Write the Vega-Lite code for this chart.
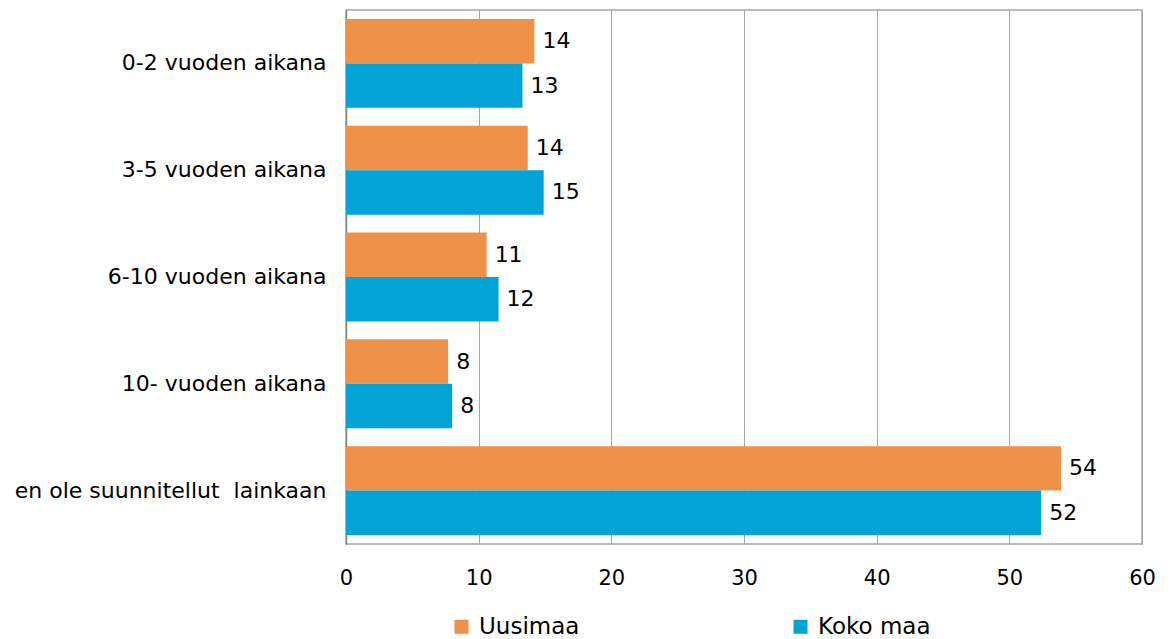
{
  "$schema": "https://vega.github.io/schema/vega-lite/v6.json",
  "width": 796,
  "height": 534,
  "autosize": {"type": "none"},
  "padding": {"left": 346, "top": 10, "right": 29, "bottom": 95},
  "config": {
    "font": "DejaVu Sans",
    "view": {"stroke": "#A6A6A6", "strokeWidth": 1.5},
    "axis": {"labelFont": "DejaVu Sans", "labelColor": "#000000"}
  },
  "data": {
    "values": [
      {"cat": "0-2 vuoden aikana", "series": "Uusimaa", "value": 14.2, "label": "14"},
      {"cat": "0-2 vuoden aikana", "series": "Koko maa", "value": 13.3, "label": "13"},
      {"cat": "3-5 vuoden aikana", "series": "Uusimaa", "value": 13.7, "label": "14"},
      {"cat": "3-5 vuoden aikana", "series": "Koko maa", "value": 14.9, "label": "15"},
      {"cat": "6-10 vuoden aikana", "series": "Uusimaa", "value": 10.6, "label": "11"},
      {"cat": "6-10 vuoden aikana", "series": "Koko maa", "value": 11.5, "label": "12"},
      {"cat": "10- vuoden aikana", "series": "Uusimaa", "value": 7.7, "label": "8"},
      {"cat": "10- vuoden aikana", "series": "Koko maa", "value": 8.0, "label": "8"},
      {"cat": "en ole suunnitellut \u00a0lainkaan", "series": "Uusimaa", "value": 53.9, "label": "54"},
      {"cat": "en ole suunnitellut \u00a0lainkaan", "series": "Koko maa", "value": 52.4, "label": "52"}
    ]
  },
  "encoding": {
    "y": {
      "field": "cat", "type": "nominal", "sort": null, "title": null,
      "scale": {"paddingInner": 0.168, "paddingOuter": 0.084},
      "axis": {"ticks": false, "labelFontSize": 22, "labelPadding": 20, "domainColor": "#888888", "domainWidth": 1.5, "labelLimit": 400}
    },
    "yOffset": {"field": "series", "type": "nominal", "sort": ["Uusimaa", "Koko maa"]},
    "x": {
      "field": "value", "type": "quantitative", "title": null,
      "scale": {"domain": [0, 60], "nice": false},
      "axis": {"values": [0, 10, 20, 30, 40, 50, 60], "ticks": false, "domain": false, "labelFlush": false, "labelFontSize": 21, "labelPadding": 23, "gridColor": "#A6A6A6", "gridWidth": 1, "gridOpacity": 1}
    }
  },
  "layer": [
    {
      "mark": {"type": "bar"},
      "encoding": {
        "color": {
          "field": "series", "type": "nominal", "sort": ["Uusimaa", "Koko maa"], "title": null,
          "scale": {"domain": ["Uusimaa", "Koko maa"], "range": ["#F0914A", "#03A3D8"]},
          "legend": {
            "orient": "none", "legendX": 104, "legendY": 605, "direction": "horizontal",
            "columns": 2, "columnPadding": 209, "symbolType": "square", "symbolSize": 196,
            "symbolStrokeWidth": 0, "labelFontSize": 23, "labelOffset": 6, "labelColor": "#000000",
            "labelFont": "DejaVu Sans"
          }
        }
      }
    },
    {
      "mark": {"type": "text", "align": "left", "baseline": "middle", "dx": 8, "fontSize": 22, "color": "#000000"},
      "encoding": {"text": {"field": "label", "type": "nominal"}}
    }
  ]
}
